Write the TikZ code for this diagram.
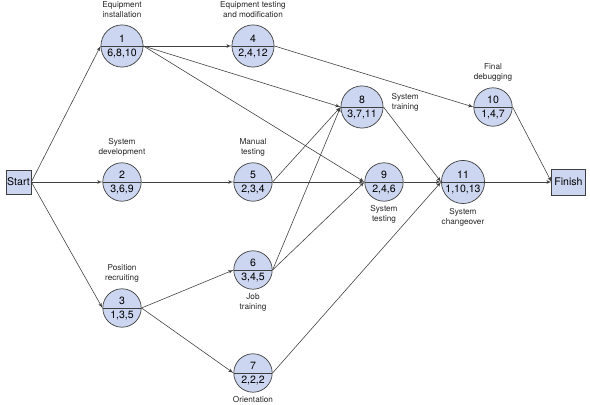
\documentclass[tikz,border=0pt]{standalone}
\usepackage{fontspec}
\setmainfont{TeX Gyre Heros}
\usetikzlibrary{arrows}
\usetikzlibrary{positioning}
\usetikzlibrary{shapes.multipart}
\tikzset{event/.style = {circle split, draw=mline, fill=mlav, line width=0.6pt,
                         minimum size=1.14cm, inner xsep=0pt, inner ysep=2.5pt,
                         font=\fontsize{9}{10}\selectfont}}
\tikzset{endbox/.style = {rectangle, draw=mline, fill=mlav, line width=0.6pt,
                          inner sep=0pt, font=\fontsize{9}{10}\selectfont}}
\tikzset{lbl/.style = {align=center, text=black!85,
                       font=\fontsize{7}{8.5}\selectfont}}
\tikzset{act/.style = {draw=mline, line width=0.5pt, -latex'}}
\definecolor{mlav}{rgb}{0.80, 0.84, 0.94}
\definecolor{mline}{rgb}{0.25, 0.25, 0.25}
\begin{document}
\begin{tikzpicture}[x=0.03cm, y=-0.03cm]
    \useasboundingbox (0, 0) rectangle (590, 405);

    \node [endbox, minimum width=0.75cm, minimum height=0.72cm] (start) at (18.5, 182) {Start};
    \node [endbox, minimum width=1.0cm, minimum height=0.78cm] (finish) at (568.5, 182) {Finish};

    \node [event] (e1) at (122, 46) {1 \nodepart{lower} 6,8,10};
    \node [event] (e2) at (122, 182) {2 \nodepart{lower} 3,6,9};
    \node [event] (e3) at (122, 308) {3 \nodepart{lower} 1,3,5};
    \node [event] (e4) at (253, 46) {4 \nodepart{lower} 2,4,12};
    \node [event] (e5) at (253, 182) {5 \nodepart{lower} 2,3,4};
    \node [event] (e6) at (253, 270) {6 \nodepart{lower} 3,4,5};
    \node [event] (e7) at (253, 373) {7 \nodepart{lower} 2,2,2};
    \node [event] (e8) at (362, 107) {8 \nodepart{lower} 3,7,11};
    \node [event] (e9) at (384, 182) {9 \nodepart{lower} 2,4,6};
    \node [event] (e10) at (493, 107) {10 \nodepart{lower} 1,4,7};
    \node [event] (e11) at (463, 182) {11 \nodepart{lower} \makebox[26pt]{1,10,13}};

    \node [lbl, above=2pt of e1] (l1) {Equipment\\installation};
    \node [lbl, above=2pt of e2] (l2) {System\\development};
    \node [lbl, above=2pt of e3] (l3) {Position\\recruiting};
    \node [lbl, above=2pt of e4] (l4) {Equipment testing\\and modification};
    \node [lbl, above=2pt of e5] (l5) {Manual\\testing};
    \node [lbl, below=0pt of e6] (l6) {Job\\training};
    \node [lbl, below=0pt of e7] (l7) {Orientation};
    \node [lbl, anchor=west] (l8) at ([xshift=3.5pt, yshift=4pt]e8.east) {System\\training};
    \node [lbl, below=0pt of e9] (l9) {System\\testing};
    \node [lbl, above=2pt of e10] (l10) {Final\\debugging};
    \node [lbl, below=0pt of e11] (l11) {System\\changeover};

    \foreach \a/\b in {start/e1, start/e2, start/e3, e1/e4, e1/e8, e1/e9, e2/e5,
                       e3/e6, e3/e7, e4/e10, e5/e8, e5/e9, e6/e8, e6/e9,
                       e8/e11, e9/e11, e7/e11, e10/finish, e11/finish}
        \draw [act] (\a.east) -- (\b.west);
\end{tikzpicture}
\end{document}
